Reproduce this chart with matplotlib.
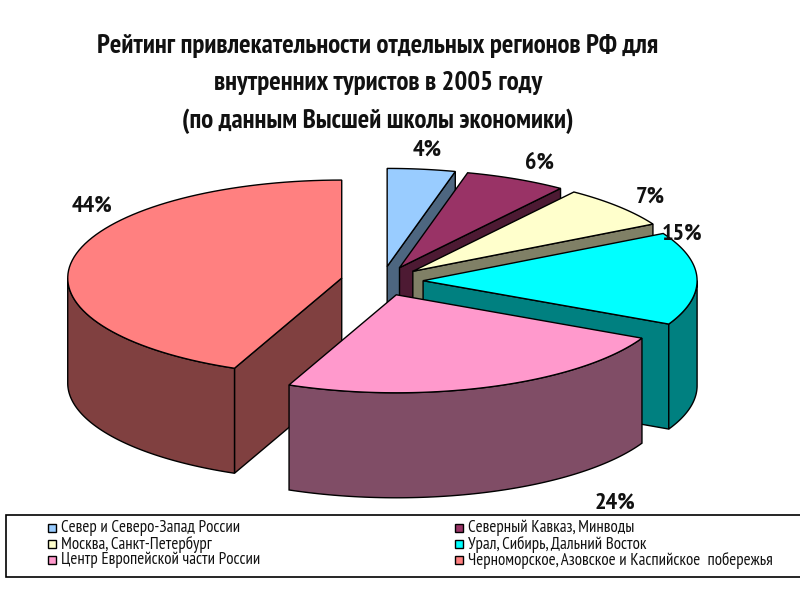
import numpy as np
import matplotlib.pyplot as plt
from matplotlib.patches import Polygon, Rectangle

plt.rcParams['font.family'] = ['PT Sans Narrow', 'Liberation Sans', 'DejaVu Sans']

regions = ['Север и Северо-Запад России', 'Северный Кавказ, Минводы', 'Москва, Санкт-Петербург',
           'Урал, Сибирь, Дальний Восток', 'Центр Европейской части России',
           'Черноморское, Азовское и Каспийское  побережья']
shares = [4, 6, 7, 15.3, 24.1, 43.6]
colors = ['#99CCFF', '#993366', '#FFFFCC', '#00FFFF', '#FF99CC', '#FF8080']
title = 'Рейтинг привлекательности отдельных регионов РФ для\nвнутренних туристов в 2005 году\n(по данным Высшей школы экономики)'

# pie projection, pixels
cx, cy = 382, 281
rx, ry = 274, 98
explode = 0.15
depth = 105
draw_order = [0, 1, 2, 3, 5, 4]
label_pos = [(427, 150), (540, 163), (650, 197), (682, 234), (615, 503), (92, 206)]

fig = plt.figure(figsize=(8, 6), dpi=100)
ax = fig.add_axes([0, 0, 1, 1])
ax.set_xlim(0, 800)
ax.set_ylim(600, 0)
ax.axis('off')


def darker(c):
    rgb = np.array(plt.matplotlib.colors.to_rgb(c))
    return rgb * 0.5


def arc(ox, oy, a, b):
    t = np.radians(np.linspace(a, b, 80))
    return np.column_stack([ox + rx * np.sin(t), oy - ry * np.cos(t)])


edges = np.cumsum([0] + shares) * 3.6
for i in draw_order:
    a, b = edges[i], edges[i + 1]
    mid = np.radians((a + b) / 2)
    ox = cx + explode * rx * np.sin(mid)
    oy = cy - explode * ry * np.cos(mid)
    side = darker(colors[i])
    down = np.array([0, depth])
    apex = np.array([ox, oy])

    # cut faces that look toward the viewer
    for ang, visible in ((a, a > 180), (b, b < 180)):
        if visible:
            p = arc(ox, oy, ang, ang)[0]
            ax.add_patch(Polygon([apex, p, p + down, apex + down], fc=side, ec='black', lw=1.0))
    # outer wall, front half only
    lo, hi = max(a, 90), min(b, 270)
    if lo < hi:
        top_arc = arc(ox, oy, lo, hi)
        ax.add_patch(Polygon(np.vstack([top_arc, top_arc[::-1] + down]), fc=side, ec='black', lw=1.0))
    ax.add_patch(Polygon(np.vstack([apex, arc(ox, oy, a, b)]), fc=colors[i], ec='black', lw=1.0))

for s, (x, y) in zip(shares, label_pos):
    ax.text(x, y, f'{s:.0f}%', ha='center', va='center', fontsize=17.5, fontweight='bold', color='#111111')

ax.text(378, 84, title, ha='center', va='center', fontsize=19.4, fontweight='bold',
        linespacing=1.67, color='#111111')

# legend box runs off the right side of the slide
ax.add_patch(Rectangle((6, 515), 800, 62, fc='white', ec='black', lw=1.2))
col_x = [52, 459]
row_y = [528, 544, 560]
for i, (name, c) in enumerate(zip(regions, colors)):
    x = col_x[i % 2]
    y = row_y[i // 2]
    ax.add_patch(Rectangle((x - 4, y - 4), 8, 8, fc=c, ec='black', lw=1))
    ax.text(x + 9, y, name, ha='left', va='center', fontsize=12.2, color='#111111')

fig.savefig('out.png', dpi=100, facecolor='white')
